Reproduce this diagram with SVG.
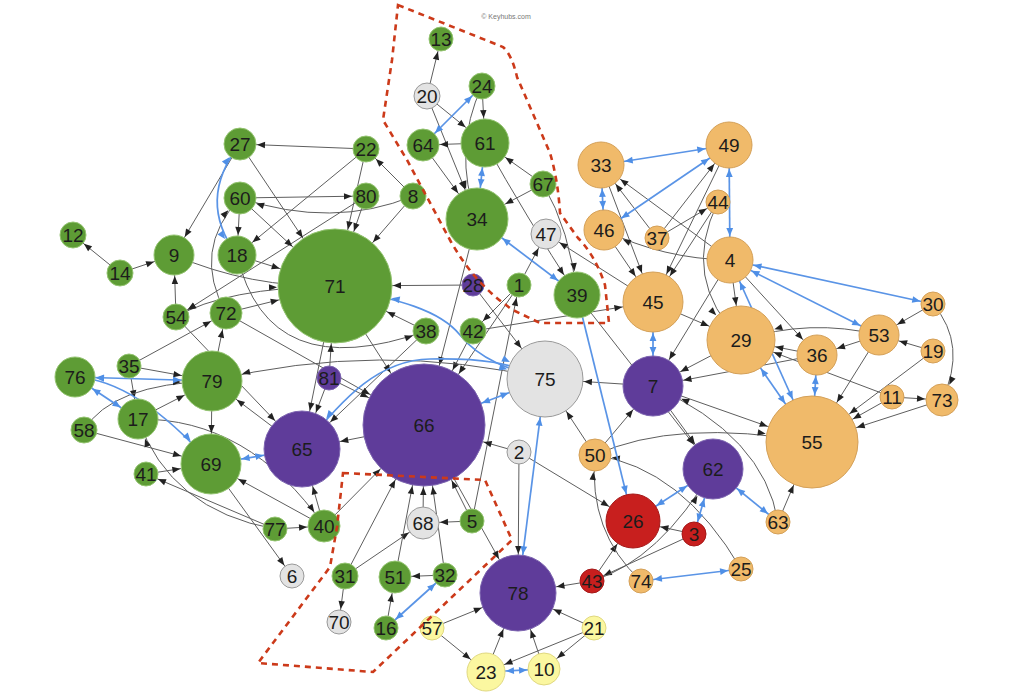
<svg xmlns="http://www.w3.org/2000/svg" width="1024" height="694" viewBox="0 0 1024 694">
<style>
marker{overflow:visible}
.mk path{fill:#222}
.mb path{fill:#4f8fe6}
#connectors .e path{fill:none;stroke:#5e5e5e;stroke-width:1}
#connectors .bl path{fill:none;stroke:#5a94e6;stroke-width:1.7}
.nodes circle{stroke-width:1}
.g circle{fill:#5e9c35;stroke:#94c471}
.o circle{fill:#f0ba6a;stroke:#d4a058}
.p circle{fill:#5f3c9a;stroke:#7d65b0}
.y circle{fill:#e3e3e3;stroke:#999}
.r circle{fill:#c81f1e;stroke:#a51818}
.w circle{fill:#fbf7a0;stroke:#e0d880}
.nodes text{font-family:"Liberation Sans",Arial,sans-serif;font-size:19px;text-anchor:middle;fill:#1c1c1c}
.dash{fill:none;stroke:#cc3a1a;stroke-width:2.6;stroke-dasharray:6,5}
.wm{font-family:"Liberation Sans",Arial,sans-serif;font-size:7px;fill:#777;text-anchor:middle}
</style>
<defs>
<marker id="k11" class="mk" markerUnits="userSpaceOnUse" orient="auto-start-reverse" overflow="visible" markerWidth="1" markerHeight="1"><path d="M-20,-3.2L-12,0L-20,3.2z"/></marker>
<marker id="k12" class="mk" markerUnits="userSpaceOnUse" orient="auto-start-reverse" overflow="visible" markerWidth="1" markerHeight="1"><path d="M-21,-3.2L-13,0L-21,3.2z"/></marker>
<marker id="k13" class="mk" markerUnits="userSpaceOnUse" orient="auto-start-reverse" overflow="visible" markerWidth="1" markerHeight="1"><path d="M-22,-3.2L-14,0L-22,3.2z"/></marker>
<marker id="k15" class="mk" markerUnits="userSpaceOnUse" orient="auto-start-reverse" overflow="visible" markerWidth="1" markerHeight="1"><path d="M-24,-3.2L-16,0L-24,3.2z"/></marker>
<marker id="k16" class="mk" markerUnits="userSpaceOnUse" orient="auto-start-reverse" overflow="visible" markerWidth="1" markerHeight="1"><path d="M-25,-3.2L-17,0L-25,3.2z"/></marker>
<marker id="k19" class="mk" markerUnits="userSpaceOnUse" orient="auto-start-reverse" overflow="visible" markerWidth="1" markerHeight="1"><path d="M-28,-3.2L-20,0L-28,3.2z"/></marker>
<marker id="k20" class="mk" markerUnits="userSpaceOnUse" orient="auto-start-reverse" overflow="visible" markerWidth="1" markerHeight="1"><path d="M-29,-3.2L-21,0L-29,3.2z"/></marker>
<marker id="k23" class="mk" markerUnits="userSpaceOnUse" orient="auto-start-reverse" overflow="visible" markerWidth="1" markerHeight="1"><path d="M-32,-3.2L-24,0L-32,3.2z"/></marker>
<marker id="k24" class="mk" markerUnits="userSpaceOnUse" orient="auto-start-reverse" overflow="visible" markerWidth="1" markerHeight="1"><path d="M-33,-3.2L-25,0L-33,3.2z"/></marker>
<marker id="k27" class="mk" markerUnits="userSpaceOnUse" orient="auto-start-reverse" overflow="visible" markerWidth="1" markerHeight="1"><path d="M-36,-3.2L-28,0L-36,3.2z"/></marker>
<marker id="k30" class="mk" markerUnits="userSpaceOnUse" orient="auto-start-reverse" overflow="visible" markerWidth="1" markerHeight="1"><path d="M-39,-3.2L-31,0L-39,3.2z"/></marker>
<marker id="k31" class="mk" markerUnits="userSpaceOnUse" orient="auto-start-reverse" overflow="visible" markerWidth="1" markerHeight="1"><path d="M-40,-3.2L-32,0L-40,3.2z"/></marker>
<marker id="k34" class="mk" markerUnits="userSpaceOnUse" orient="auto-start-reverse" overflow="visible" markerWidth="1" markerHeight="1"><path d="M-43,-3.2L-35,0L-43,3.2z"/></marker>
<marker id="k38" class="mk" markerUnits="userSpaceOnUse" orient="auto-start-reverse" overflow="visible" markerWidth="1" markerHeight="1"><path d="M-47,-3.2L-39,0L-47,3.2z"/></marker>
<marker id="k46" class="mk" markerUnits="userSpaceOnUse" orient="auto-start-reverse" overflow="visible" markerWidth="1" markerHeight="1"><path d="M-55,-3.2L-47,0L-55,3.2z"/></marker>
<marker id="k57" class="mk" markerUnits="userSpaceOnUse" orient="auto-start-reverse" overflow="visible" markerWidth="1" markerHeight="1"><path d="M-66,-3.2L-58,0L-66,3.2z"/></marker>
<marker id="k61" class="mk" markerUnits="userSpaceOnUse" orient="auto-start-reverse" overflow="visible" markerWidth="1" markerHeight="1"><path d="M-70,-3.2L-62,0L-70,3.2z"/></marker>
<marker id="b12" class="mb" markerUnits="userSpaceOnUse" orient="auto-start-reverse" overflow="visible" markerWidth="1" markerHeight="1"><path d="M-21,-3.4L-13,0L-21,3.4z"/></marker>
<marker id="b13" class="mb" markerUnits="userSpaceOnUse" orient="auto-start-reverse" overflow="visible" markerWidth="1" markerHeight="1"><path d="M-22,-3.4L-14,0L-22,3.4z"/></marker>
<marker id="b16" class="mb" markerUnits="userSpaceOnUse" orient="auto-start-reverse" overflow="visible" markerWidth="1" markerHeight="1"><path d="M-25,-3.4L-17,0L-25,3.4z"/></marker>
<marker id="b19" class="mb" markerUnits="userSpaceOnUse" orient="auto-start-reverse" overflow="visible" markerWidth="1" markerHeight="1"><path d="M-28,-3.4L-20,0L-28,3.4z"/></marker>
<marker id="b20" class="mb" markerUnits="userSpaceOnUse" orient="auto-start-reverse" overflow="visible" markerWidth="1" markerHeight="1"><path d="M-29,-3.4L-21,0L-29,3.4z"/></marker>
<marker id="b23" class="mb" markerUnits="userSpaceOnUse" orient="auto-start-reverse" overflow="visible" markerWidth="1" markerHeight="1"><path d="M-32,-3.4L-24,0L-32,3.4z"/></marker>
<marker id="b24" class="mb" markerUnits="userSpaceOnUse" orient="auto-start-reverse" overflow="visible" markerWidth="1" markerHeight="1"><path d="M-33,-3.4L-25,0L-33,3.4z"/></marker>
<marker id="b27" class="mb" markerUnits="userSpaceOnUse" orient="auto-start-reverse" overflow="visible" markerWidth="1" markerHeight="1"><path d="M-36,-3.4L-28,0L-36,3.4z"/></marker>
<marker id="b30" class="mb" markerUnits="userSpaceOnUse" orient="auto-start-reverse" overflow="visible" markerWidth="1" markerHeight="1"><path d="M-39,-3.4L-31,0L-39,3.4z"/></marker>
<marker id="b31" class="mb" markerUnits="userSpaceOnUse" orient="auto-start-reverse" overflow="visible" markerWidth="1" markerHeight="1"><path d="M-40,-3.4L-32,0L-40,3.4z"/></marker>
<marker id="b34" class="mb" markerUnits="userSpaceOnUse" orient="auto-start-reverse" overflow="visible" markerWidth="1" markerHeight="1"><path d="M-43,-3.4L-35,0L-43,3.4z"/></marker>
<marker id="b38" class="mb" markerUnits="userSpaceOnUse" orient="auto-start-reverse" overflow="visible" markerWidth="1" markerHeight="1"><path d="M-47,-3.4L-39,0L-47,3.4z"/></marker>
<marker id="b46" class="mb" markerUnits="userSpaceOnUse" orient="auto-start-reverse" overflow="visible" markerWidth="1" markerHeight="1"><path d="M-55,-3.4L-47,0L-55,3.4z"/></marker>
<marker id="b57" class="mb" markerUnits="userSpaceOnUse" orient="auto-start-reverse" overflow="visible" markerWidth="1" markerHeight="1"><path d="M-66,-3.4L-58,0L-66,3.4z"/></marker>
<marker id="b61" class="mb" markerUnits="userSpaceOnUse" orient="auto-start-reverse" overflow="visible" markerWidth="1" markerHeight="1"><path d="M-70,-3.4L-62,0L-70,3.4z"/></marker>
</defs>
<rect width="1024" height="694" fill="#fff"/>
<text class="wm" x="506" y="19">© Keyhubs.com</text>
<g id="connectors">
<g class="e">
<path d="M427,96L441,39" marker-end="url(#k12)"/>
<path d="M427,96L485,143" marker-end="url(#k24)"/>
<path d="M427,96L477,219" marker-end="url(#k31)"/>
<path d="M482,86L485,143" marker-end="url(#k24)"/>
<path d="M482,86Q452,150 477,219" marker-end="url(#k31)"/>
<path d="M485,143L423,145" marker-end="url(#k16)"/>
<path d="M423,145L477,219" marker-end="url(#k31)"/>
<path d="M543,184L485,143" marker-end="url(#k24)"/>
<path d="M543,184L477,219" marker-end="url(#k31)"/>
<path d="M543,184Q570,230 577,295" marker-end="url(#k23)"/>
<path d="M485,143Q525,215 577,295" marker-end="url(#k23)"/>
<path d="M577,295L713,469" marker-end="url(#k30)"/>
<path d="M519,285L546,234" marker-end="url(#k15)"/>
<path d="M519,285L473,331" marker-end="url(#k13)"/>
<path d="M519,285L424,425" marker-end="url(#k61)"/>
<path d="M473,331L424,425" marker-end="url(#k61)"/>
<path d="M473,331L653,302" marker-end="url(#k30)"/>
<path d="M473,285L335,286" marker-end="url(#k57)"/>
<path d="M473,285L545,379" marker-end="url(#k38)"/>
<path d="M477,219L424,425" marker-end="url(#k61)"/>
<path d="M472,521L519,285" marker-end="url(#k12)"/>
<path d="M413,196L366,149" marker-end="url(#k13)"/>
<path d="M413,196L335,286" marker-end="url(#k57)"/>
<path d="M413,196Q333,229 240,198" marker-end="url(#k16)"/>
<path d="M366,149L240,144" marker-end="url(#k16)"/>
<path d="M366,149L335,286" marker-end="url(#k57)"/>
<path d="M366,149L237,255" marker-end="url(#k19)"/>
<path d="M366,196L335,286" marker-end="url(#k57)"/>
<path d="M240,198L366,196" marker-end="url(#k13)"/>
<path d="M366,196L176,317" marker-end="url(#k13)"/>
<path d="M240,144L174,255" marker-end="url(#k20)"/>
<path d="M240,144L335,286" marker-end="url(#k57)"/>
<path d="M240,198L237,255" marker-end="url(#k19)"/>
<path d="M240,198L335,286" marker-end="url(#k57)"/>
<path d="M237,255L335,286" marker-end="url(#k57)"/>
<path d="M174,255Q250,288 335,286" marker-end="url(#k57)"/>
<path d="M120,273L73,235" marker-end="url(#k13)"/>
<path d="M120,273L174,255" marker-end="url(#k20)"/>
<path d="M176,317L174,255" marker-end="url(#k20)"/>
<path d="M335,286Q224,288 176,317" marker-end="url(#k13)"/>
<path d="M226,313L335,286" marker-end="url(#k57)"/>
<path d="M226,313Q191,250 240,198" marker-end="url(#k16)"/>
<path d="M237,255Q268,387 426,331" marker-end="url(#k13)"/>
<path d="M426,331L335,286" marker-end="url(#k57)"/>
<path d="M426,331L302,449" marker-end="url(#k38)"/>
<path d="M176,317L302,449" marker-end="url(#k38)"/>
<path d="M226,313L424,425" marker-end="url(#k61)"/>
<path d="M335,286L424,425" marker-end="url(#k61)"/>
<path d="M335,286L302,449" marker-end="url(#k38)"/>
<path d="M329,378L335,286" marker-end="url(#k57)"/>
<path d="M329,378L302,449" marker-end="url(#k38)"/>
<path d="M329,378L424,425" marker-end="url(#k61)"/>
<path d="M129,366L212,381" marker-end="url(#k30)"/>
<path d="M129,366L138,419" marker-end="url(#k20)"/>
<path d="M129,366L226,313" marker-end="url(#k16)"/>
<path d="M84,430Q112,384 212,381" marker-end="url(#k30)"/>
<path d="M84,430L211,464" marker-end="url(#k30)"/>
<path d="M138,419L212,381" marker-end="url(#k30)"/>
<path d="M138,419Q249,418 324,526" marker-end="url(#k16)"/>
<path d="M275,529Q170,510 138,419" marker-end="url(#k20)"/>
<path d="M275,529L146,474" marker-end="url(#k12)"/>
<path d="M275,529L324,526" marker-end="url(#k16)"/>
<path d="M146,474L211,464" marker-end="url(#k30)"/>
<path d="M212,381L211,464" marker-end="url(#k30)"/>
<path d="M211,464L292,576" marker-end="url(#k12)"/>
<path d="M324,526L211,464" marker-end="url(#k30)"/>
<path d="M324,526L302,449" marker-end="url(#k38)"/>
<path d="M212,381L226,313" marker-end="url(#k16)"/>
<path d="M302,449L212,381" marker-end="url(#k30)"/>
<path d="M545,379Q380,340 212,381" marker-end="url(#k30)"/>
<path d="M424,425L302,449" marker-end="url(#k38)"/>
<path d="M324,526L424,425" marker-end="url(#k61)"/>
<path d="M345,576L424,425" marker-end="url(#k61)"/>
<path d="M345,576L423,523" marker-end="url(#k16)"/>
<path d="M345,576L339,622" marker-end="url(#k12)"/>
<path d="M395,577L424,425" marker-end="url(#k61)"/>
<path d="M386,628L395,577" marker-end="url(#k16)"/>
<path d="M445,575L395,577" marker-end="url(#k16)"/>
<path d="M445,575L424,425" marker-end="url(#k61)"/>
<path d="M423,523L424,425" marker-end="url(#k61)"/>
<path d="M472,521L423,523" marker-end="url(#k16)"/>
<path d="M472,521L424,425" marker-end="url(#k61)"/>
<path d="M424,425L518,593" marker-end="url(#k38)"/>
<path d="M519,452L424,425" marker-end="url(#k61)"/>
<path d="M519,452L518,593" marker-end="url(#k38)"/>
<path d="M519,452L633,521" marker-end="url(#k27)"/>
<path d="M432,628L518,593" marker-end="url(#k38)"/>
<path d="M432,628L486,672" marker-end="url(#k19)"/>
<path d="M486,672L518,593" marker-end="url(#k38)"/>
<path d="M544,669L518,593" marker-end="url(#k38)"/>
<path d="M594,628L518,593" marker-end="url(#k38)"/>
<path d="M594,628L486,672" marker-end="url(#k19)"/>
<path d="M594,628L544,669" marker-end="url(#k16)"/>
<path d="M592,581L518,593" marker-end="url(#k38)"/>
<path d="M592,581L633,521" marker-end="url(#k27)"/>
<path d="M694,534L592,581" marker-end="url(#k12)"/>
<path d="M694,534L633,521" marker-end="url(#k27)"/>
<path d="M592,581Q660,560 713,469" marker-end="url(#k30)"/>
<path d="M641,581Q588,532 595,455" marker-end="url(#k16)"/>
<path d="M741,569Q682,468 595,455" marker-end="url(#k16)"/>
<path d="M595,455L545,379" marker-end="url(#k38)"/>
<path d="M595,455L653,386" marker-end="url(#k30)"/>
<path d="M595,455Q676,418 812,442" marker-end="url(#k46)"/>
<path d="M653,386L545,379" marker-end="url(#k38)"/>
<path d="M653,386L713,469" marker-end="url(#k30)"/>
<path d="M653,386L812,442" marker-end="url(#k46)"/>
<path d="M778,522Q764,436 653,386" marker-end="url(#k30)"/>
<path d="M778,522L812,442" marker-end="url(#k46)"/>
<path d="M730,260L653,386" marker-end="url(#k30)"/>
<path d="M741,340L653,386" marker-end="url(#k30)"/>
<path d="M817,355L653,386" marker-end="url(#k30)"/>
<path d="M892,397L741,340" marker-end="url(#k34)"/>
<path d="M879,335Q810,318 741,340" marker-end="url(#k34)"/>
<path d="M817,355L741,340" marker-end="url(#k34)"/>
<path d="M879,335L817,355" marker-end="url(#k20)"/>
<path d="M933,304L879,335" marker-end="url(#k20)"/>
<path d="M933,351L879,335" marker-end="url(#k20)"/>
<path d="M933,304Q968,345 942,400" marker-end="url(#k16)"/>
<path d="M892,397L942,400" marker-end="url(#k16)"/>
<path d="M942,400L812,442" marker-end="url(#k46)"/>
<path d="M892,397L812,442" marker-end="url(#k46)"/>
<path d="M933,351L812,442" marker-end="url(#k46)"/>
<path d="M879,335L812,442" marker-end="url(#k46)"/>
<path d="M730,260L817,355" marker-end="url(#k20)"/>
<path d="M730,260L741,340" marker-end="url(#k34)"/>
<path d="M653,302L741,340" marker-end="url(#k34)"/>
<path d="M718,202L653,302" marker-end="url(#k30)"/>
<path d="M718,202Q680,279 741,340" marker-end="url(#k34)"/>
<path d="M729,145L653,302" marker-end="url(#k30)"/>
<path d="M657,238L718,202" marker-end="url(#k12)"/>
<path d="M657,238L729,145" marker-end="url(#k23)"/>
<path d="M657,238L601,165" marker-end="url(#k23)"/>
<path d="M730,260L601,165" marker-end="url(#k23)"/>
<path d="M601,165L653,302" marker-end="url(#k30)"/>
<path d="M604,230L653,302" marker-end="url(#k30)"/>
<path d="M730,260Q663,259 604,230" marker-end="url(#k20)"/>
<path d="M653,302L546,234" marker-end="url(#k15)"/>
</g>
<g class="bl">
<path d="M240,144Q196,200 237,255" marker-start="url(#b16)" marker-end="url(#b19)"/>
<path d="M482,86L423,145" marker-start="url(#b13)" marker-end="url(#b16)"/>
<path d="M485,143L477,219" marker-start="url(#b24)" marker-end="url(#b31)"/>
<path d="M477,219L577,295" marker-start="url(#b31)" marker-end="url(#b23)"/>
<path d="M601,165L729,145" marker-start="url(#b23)" marker-end="url(#b23)"/>
<path d="M601,165L604,230" marker-start="url(#b23)" marker-end="url(#b20)"/>
<path d="M604,230L729,145" marker-start="url(#b20)" marker-end="url(#b23)"/>
<path d="M729,145L730,260" marker-start="url(#b23)" marker-end="url(#b23)"/>
<path d="M730,260L933,304" marker-start="url(#b23)" marker-end="url(#b12)"/>
<path d="M730,260L879,335" marker-start="url(#b23)" marker-end="url(#b20)"/>
<path d="M730,260L812,442" marker-start="url(#b23)" marker-end="url(#b46)"/>
<path d="M741,340L812,442" marker-start="url(#b34)" marker-end="url(#b46)"/>
<path d="M817,355L812,442" marker-start="url(#b20)" marker-end="url(#b46)"/>
<path d="M653,302L653,386" marker-start="url(#b30)" marker-end="url(#b30)"/>
<path d="M577,295L633,521" marker-end="url(#b27)"/>
<path d="M713,469L633,521" marker-start="url(#b30)" marker-end="url(#b27)"/>
<path d="M713,469L694,534" marker-start="url(#b30)" marker-end="url(#b12)"/>
<path d="M713,469L778,522" marker-start="url(#b30)" marker-end="url(#b12)"/>
<path d="M641,581L741,569" marker-start="url(#b12)" marker-end="url(#b12)"/>
<path d="M518,593L545,379" marker-start="url(#b38)" marker-end="url(#b38)"/>
<path d="M424,425L545,379" marker-start="url(#b61)" marker-end="url(#b38)"/>
<path d="M211,464L302,449" marker-start="url(#b30)" marker-end="url(#b38)"/>
<path d="M75,377L212,381" marker-start="url(#b20)" marker-end="url(#b30)"/>
<path d="M75,377L138,419" marker-start="url(#b20)" marker-end="url(#b20)"/>
<path d="M75,377Q137,380 211,464" marker-start="url(#b20)" marker-end="url(#b30)"/>
<path d="M386,628L445,575" marker-start="url(#b12)" marker-end="url(#b12)"/>
<path d="M486,672L544,669" marker-start="url(#b19)" marker-end="url(#b16)"/>
<path d="M335,286C400,300 440,310 460,335S510,370 545,379" marker-start="url(#b57)" marker-end="url(#b38)"/>
<path d="M302,449C345,395 380,360 430,359S510,362 545,379" marker-start="url(#b38)" marker-end="url(#b38)"/>
</g>
</g>
<g class="nodes">
<g id="n13" class="g"><circle cx="441" cy="39" r="12"/><text x="441" y="46">13</text></g>
<g id="n20" class="y"><circle cx="427" cy="96" r="13"/><text x="427" y="103">20</text></g>
<g id="n24" class="g"><circle cx="482" cy="86" r="13"/><text x="482" y="93">24</text></g>
<g id="n64" class="g"><circle cx="423" cy="145" r="16"/><text x="423" y="152">64</text></g>
<g id="n61" class="g"><circle cx="485" cy="143" r="24"/><text x="485" y="150">61</text></g>
<g id="n34" class="g"><circle cx="477" cy="219" r="31"/><text x="477" y="226">34</text></g>
<g id="n67" class="g"><circle cx="543" cy="184" r="13"/><text x="543" y="191">67</text></g>
<g id="n22" class="g"><circle cx="366" cy="149" r="13"/><text x="366" y="156">22</text></g>
<g id="n80" class="g"><circle cx="366" cy="196" r="13"/><text x="366" y="203">80</text></g>
<g id="n8" class="g"><circle cx="413" cy="196" r="13"/><text x="413" y="203">8</text></g>
<g id="n27" class="g"><circle cx="240" cy="144" r="16"/><text x="240" y="151">27</text></g>
<g id="n60" class="g"><circle cx="240" cy="198" r="16"/><text x="240" y="205">60</text></g>
<g id="n18" class="g"><circle cx="237" cy="255" r="19"/><text x="237" y="262">18</text></g>
<g id="n71" class="g"><circle cx="335" cy="286" r="57"/><text x="335" y="293">71</text></g>
<g id="n12" class="g"><circle cx="73" cy="235" r="13"/><text x="73" y="242">12</text></g>
<g id="n14" class="g"><circle cx="120" cy="273" r="13"/><text x="120" y="280">14</text></g>
<g id="n9" class="g"><circle cx="174" cy="255" r="20"/><text x="174" y="262">9</text></g>
<g id="n54" class="g"><circle cx="176" cy="317" r="13"/><text x="176" y="324">54</text></g>
<g id="n72" class="g"><circle cx="226" cy="313" r="16"/><text x="226" y="320">72</text></g>
<g id="n38" class="g"><circle cx="426" cy="331" r="13"/><text x="426" y="338">38</text></g>
<g id="n42" class="g"><circle cx="473" cy="331" r="13"/><text x="473" y="338">42</text></g>
<g id="n1" class="g"><circle cx="519" cy="285" r="12"/><text x="519" y="292">1</text></g>
<g id="n28" class="p"><circle cx="473" cy="285" r="11"/><text x="473" y="292">28</text></g>
<g id="n47" class="y"><circle cx="546" cy="234" r="15"/><text x="546" y="241">47</text></g>
<g id="n39" class="g"><circle cx="577" cy="295" r="23"/><text x="577" y="302">39</text></g>
<g id="n35" class="g"><circle cx="129" cy="366" r="12"/><text x="129" y="373">35</text></g>
<g id="n76" class="g"><circle cx="75" cy="377" r="20"/><text x="75" y="384">76</text></g>
<g id="n79" class="g"><circle cx="212" cy="381" r="30"/><text x="212" y="388">79</text></g>
<g id="n17" class="g"><circle cx="138" cy="419" r="20"/><text x="138" y="426">17</text></g>
<g id="n58" class="g"><circle cx="84" cy="430" r="13"/><text x="84" y="437">58</text></g>
<g id="n69" class="g"><circle cx="211" cy="464" r="30"/><text x="211" y="471">69</text></g>
<g id="n41" class="g"><circle cx="146" cy="474" r="12"/><text x="146" y="481">41</text></g>
<g id="n65" class="p"><circle cx="302" cy="449" r="38"/><text x="302" y="456">65</text></g>
<g id="n81" class="p"><circle cx="329" cy="378" r="12"/><text x="329" y="385">81</text></g>
<g id="n66" class="p"><circle cx="424" cy="425" r="61"/><text x="424" y="432">66</text></g>
<g id="n75" class="y"><circle cx="545" cy="379" r="38"/><text x="545" y="386">75</text></g>
<g id="n2" class="y"><circle cx="519" cy="452" r="12"/><text x="519" y="459">2</text></g>
<g id="n40" class="g"><circle cx="324" cy="526" r="16"/><text x="324" y="533">40</text></g>
<g id="n77" class="g"><circle cx="275" cy="529" r="12"/><text x="275" y="536">77</text></g>
<g id="n6" class="y"><circle cx="292" cy="576" r="12"/><text x="292" y="583">6</text></g>
<g id="n68" class="y"><circle cx="423" cy="523" r="16"/><text x="423" y="530">68</text></g>
<g id="n5" class="g"><circle cx="472" cy="521" r="12"/><text x="472" y="528">5</text></g>
<g id="n31" class="g"><circle cx="345" cy="576" r="13"/><text x="345" y="583">31</text></g>
<g id="n70" class="y"><circle cx="339" cy="622" r="12"/><text x="339" y="629">70</text></g>
<g id="n51" class="g"><circle cx="395" cy="577" r="16"/><text x="395" y="584">51</text></g>
<g id="n32" class="g"><circle cx="445" cy="575" r="12"/><text x="445" y="582">32</text></g>
<g id="n16" class="g"><circle cx="386" cy="628" r="12"/><text x="386" y="635">16</text></g>
<g id="n78" class="p"><circle cx="518" cy="593" r="38"/><text x="518" y="600">78</text></g>
<g id="n57" class="w"><circle cx="432" cy="628" r="12"/><text x="432" y="635">57</text></g>
<g id="n23" class="w"><circle cx="486" cy="672" r="19"/><text x="486" y="679">23</text></g>
<g id="n10" class="w"><circle cx="544" cy="669" r="16"/><text x="544" y="676">10</text></g>
<g id="n21" class="w"><circle cx="594" cy="628" r="12"/><text x="594" y="635">21</text></g>
<g id="n43" class="r"><circle cx="592" cy="581" r="12"/><text x="592" y="588">43</text></g>
<g id="n74" class="o"><circle cx="641" cy="581" r="12"/><text x="641" y="588">74</text></g>
<g id="n25" class="o"><circle cx="741" cy="569" r="12"/><text x="741" y="576">25</text></g>
<g id="n26" class="r"><circle cx="633" cy="521" r="27"/><text x="633" y="528">26</text></g>
<g id="n3" class="r"><circle cx="694" cy="534" r="12"/><text x="694" y="541">3</text></g>
<g id="n50" class="o"><circle cx="595" cy="455" r="16"/><text x="595" y="462">50</text></g>
<g id="n62" class="p"><circle cx="713" cy="469" r="30"/><text x="713" y="476">62</text></g>
<g id="n63" class="o"><circle cx="778" cy="522" r="12"/><text x="778" y="529">63</text></g>
<g id="n7" class="p"><circle cx="653" cy="386" r="30"/><text x="653" y="393">7</text></g>
<g id="n55" class="o"><circle cx="812" cy="442" r="46"/><text x="812" y="449">55</text></g>
<g id="n45" class="o"><circle cx="653" cy="302" r="30"/><text x="653" y="309">45</text></g>
<g id="n29" class="o"><circle cx="741" cy="340" r="34"/><text x="741" y="347">29</text></g>
<g id="n36" class="o"><circle cx="817" cy="355" r="20"/><text x="817" y="362">36</text></g>
<g id="n53" class="o"><circle cx="879" cy="335" r="20"/><text x="879" y="342">53</text></g>
<g id="n30" class="o"><circle cx="933" cy="304" r="12"/><text x="933" y="311">30</text></g>
<g id="n19" class="o"><circle cx="933" cy="351" r="12"/><text x="933" y="358">19</text></g>
<g id="n11" class="o"><circle cx="892" cy="397" r="12"/><text x="892" y="404">11</text></g>
<g id="n73" class="o"><circle cx="942" cy="400" r="16"/><text x="942" y="407">73</text></g>
<g id="n4" class="o"><circle cx="730" cy="260" r="23"/><text x="730" y="267">4</text></g>
<g id="n33" class="o"><circle cx="601" cy="165" r="23"/><text x="601" y="172">33</text></g>
<g id="n49" class="o"><circle cx="729" cy="145" r="23"/><text x="729" y="152">49</text></g>
<g id="n46" class="o"><circle cx="604" cy="230" r="20"/><text x="604" y="237">46</text></g>
<g id="n37" class="o"><circle cx="657" cy="238" r="12"/><text x="657" y="245">37</text></g>
<g id="n44" class="o"><circle cx="718" cy="202" r="12"/><text x="718" y="209">44</text></g>
</g>
<g id="regions">
<path class="dash" d="M398,5L503,47Q512,55 517,77L550,153Q558,180 560,213L578,238Q595,255 605,285L609,323L540,323L513,310Q475,285 450,240L407,160L383,120L392,60Z"/>
<path class="dash" d="M343,473L485,480L512,540L373,672L258,663L330,567L337,527Z"/>
</g>
</svg>
